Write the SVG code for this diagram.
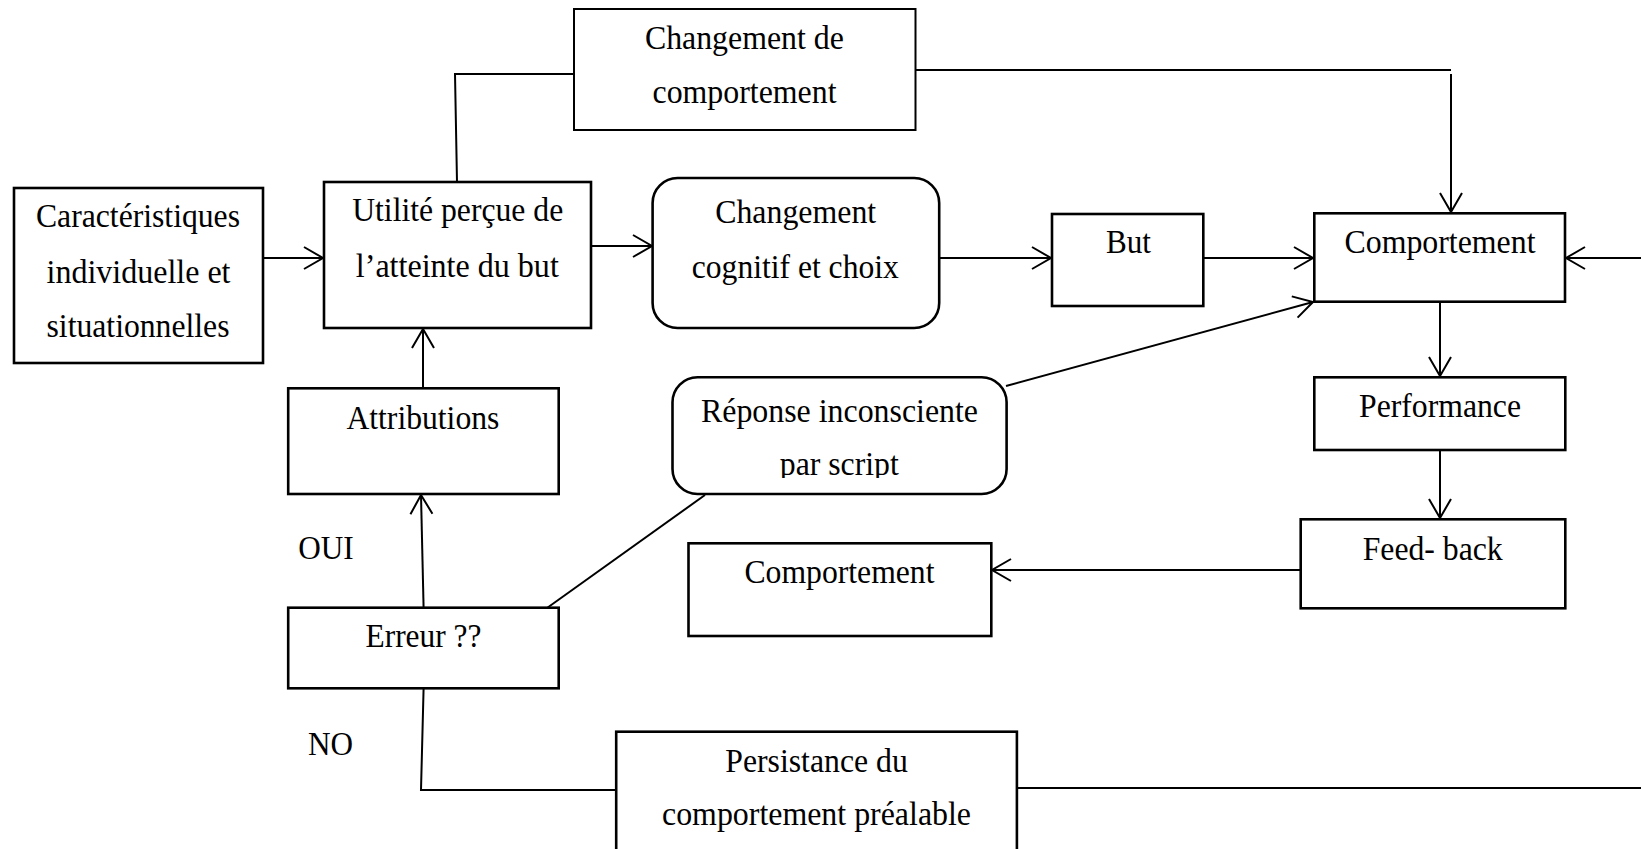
<svg xmlns="http://www.w3.org/2000/svg" width="1641" height="849" viewBox="0 0 1641 849">
<style>
.box{fill:#fff;stroke:#000;stroke-width:2.6}
.thin{stroke-width:2}
.t{font-family:"Liberation Serif","Times New Roman",serif;font-size:33px;fill:#000;text-anchor:middle}
.c{fill:none;stroke:#000;stroke-width:2}
</style>
<defs>
<marker id="arr" markerUnits="userSpaceOnUse" markerWidth="24" markerHeight="26" refX="19" refY="11" orient="auto" viewBox="-2 -2 24 26">
<path d="M0,0 L19,11 L0,22" fill="none" stroke="#000" stroke-width="2"/>
</marker>
<clipPath id="clipPar"><rect x="660" y="380" width="340" height="98"/></clipPath>
</defs>
<rect width="1641" height="849" fill="#fff"/>
<g id="connectors">
<line class="c" x1="263" y1="258" x2="323" y2="258" marker-end="url(#arr)"/>
<polyline class="c" points="457,182 455,74 574,74"/>
<polyline class="c" points="915,70 1451,70"/>
<line class="c" x1="1451" y1="74" x2="1451" y2="212" marker-end="url(#arr)"/>
<line class="c" x1="591" y1="246" x2="652" y2="246" marker-end="url(#arr)"/>
<line class="c" x1="939" y1="258" x2="1051" y2="258" marker-end="url(#arr)"/>
<line class="c" x1="1203" y1="258" x2="1313" y2="258" marker-end="url(#arr)"/>
<line class="c" x1="1641" y1="258" x2="1566" y2="258" marker-end="url(#arr)"/>
<line class="c" x1="1006" y1="386" x2="1313" y2="302" marker-end="url(#arr)"/>
<line class="c" x1="1440" y1="302" x2="1440" y2="376" marker-end="url(#arr)"/>
<line class="c" x1="1440" y1="450" x2="1440" y2="518" marker-end="url(#arr)"/>
<line class="c" x1="1301" y1="570" x2="992" y2="570" marker-end="url(#arr)"/>
<line class="c" x1="423" y1="388" x2="423" y2="329" marker-end="url(#arr)"/>
<line class="c" x1="423.6" y1="608" x2="421" y2="495" marker-end="url(#arr)"/>
<line class="c" x1="705" y1="495" x2="547" y2="608"/>
<polyline class="c" points="423.6,688 421,790 616,790"/>
<line class="c" x1="1013" y1="788" x2="1641" y2="788"/>
</g>
<g id="caracteristiques">
<rect class="box" x="14" y="188" width="249" height="175"/>
<text class="t" x="138" y="227" textLength="204" lengthAdjust="spacingAndGlyphs">Caractéristiques</text>
<text class="t" x="138.5" y="283" textLength="184" lengthAdjust="spacingAndGlyphs">individuelle et</text>
<text class="t" x="138" y="337" textLength="183" lengthAdjust="spacingAndGlyphs">situationnelles</text>
</g>
<g id="utilite">
<rect class="box" x="324" y="182" width="267" height="146"/>
<text class="t" x="457.7" y="221" textLength="211" lengthAdjust="spacingAndGlyphs">Utilité perçue de</text>
<text class="t" x="457.3" y="277" textLength="203" lengthAdjust="spacingAndGlyphs">l’atteinte du but</text>
</g>
<g id="changement-comportement">
<rect class="box thin" x="574" y="9" width="341.5" height="121"/>
<text class="t" x="744.4" y="49" textLength="199" lengthAdjust="spacingAndGlyphs">Changement de</text>
<text class="t" x="744.5" y="103" textLength="184" lengthAdjust="spacingAndGlyphs">comportement</text>
</g>
<g id="changement-cognitif">
<rect class="box" x="652.6" y="178" width="286.6" height="150" rx="25" ry="25"/>
<text class="t" x="795.7" y="223" textLength="161" lengthAdjust="spacingAndGlyphs">Changement</text>
<text class="t" x="795.3" y="278" textLength="207" lengthAdjust="spacingAndGlyphs">cognitif et choix</text>
</g>
<g id="but">
<rect class="box" x="1052" y="214" width="151.3" height="92"/>
<text class="t" x="1128.5" y="253" textLength="45" lengthAdjust="spacingAndGlyphs">But</text>
</g>
<g id="comportement">
<rect class="box" x="1314.3" y="213.3" width="250.7" height="88.4"/>
<text class="t" x="1440" y="253" textLength="191" lengthAdjust="spacingAndGlyphs">Comportement</text>
</g>
<g id="performance">
<rect class="box" x="1314.3" y="377.3" width="251" height="72.7"/>
<text class="t" x="1440" y="417" textLength="162" lengthAdjust="spacingAndGlyphs">Performance</text>
</g>
<g id="feedback">
<rect class="box" x="1300.7" y="519.3" width="264.6" height="89"/>
<text class="t" x="1432.7" y="560" textLength="140" lengthAdjust="spacingAndGlyphs">Feed- back</text>
</g>
<g id="reponse">
<rect class="box" x="672.5" y="377.3" width="334.1" height="116.7" rx="25" ry="25"/>
<text class="t" x="839.5" y="422" textLength="277" lengthAdjust="spacingAndGlyphs">Réponse inconsciente</text>
<text class="t" x="839.3" y="475" textLength="119" lengthAdjust="spacingAndGlyphs" clip-path="url(#clipPar)">par script</text>
</g>
<g id="comportement2">
<rect class="box" x="688.5" y="543.3" width="302.8" height="92.7"/>
<text class="t" x="839.5" y="583" textLength="190" lengthAdjust="spacingAndGlyphs">Comportement</text>
</g>
<g id="attributions">
<rect class="box" x="288.2" y="388.3" width="270.5" height="105.7"/>
<text class="t" x="422.9" y="429" textLength="153" lengthAdjust="spacingAndGlyphs">Attributions</text>
</g>
<g id="erreur">
<rect class="box" x="288.2" y="607.7" width="270.5" height="80.6"/>
<text class="t" x="423.5" y="647" textLength="116" lengthAdjust="spacingAndGlyphs">Erreur ??</text>
</g>
<g id="persistance">
<rect class="box" x="616.2" y="731.7" width="400.7" height="130"/>
<text class="t" x="816.5" y="772" textLength="182.5" lengthAdjust="spacingAndGlyphs">Persistance du</text>
<text class="t" x="816.5" y="825" textLength="309" lengthAdjust="spacingAndGlyphs">comportement préalable</text>
</g>
<g id="labels">
<text class="t" x="326" y="559" textLength="55.5" lengthAdjust="spacingAndGlyphs">OUI</text>
<text class="t" x="330.5" y="755" textLength="45" lengthAdjust="spacingAndGlyphs">NO</text>
</g>
</svg>
